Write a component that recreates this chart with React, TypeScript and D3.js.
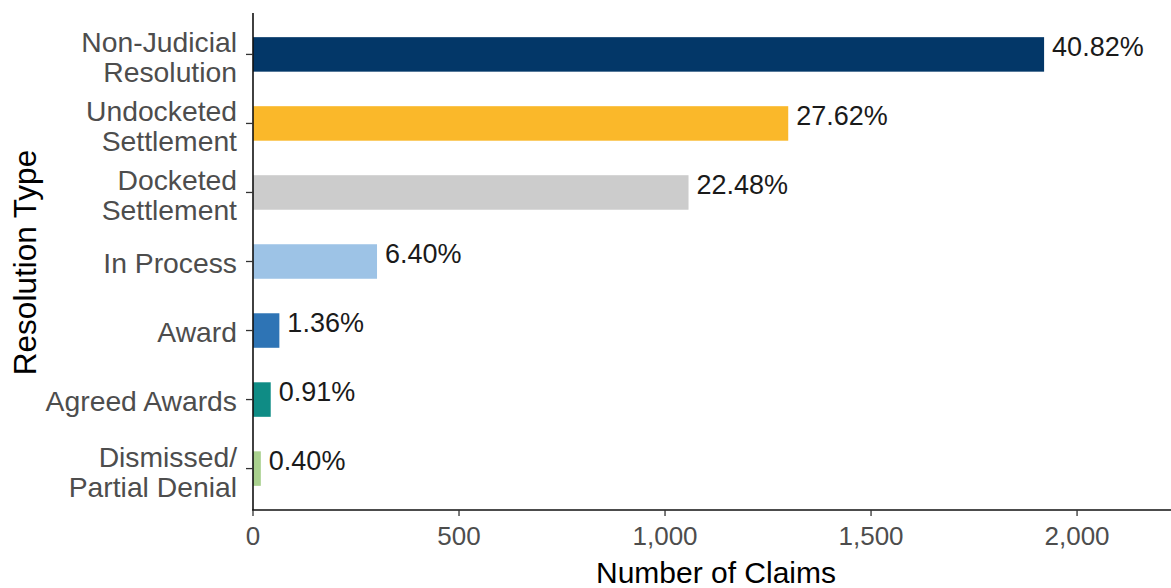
import React from "react";
import * as d3 from "d3";

const categories: string[][] = [
  ["Non-Judicial", "Resolution"],
  ["Undocketed", "Settlement"],
  ["Docketed", "Settlement"],
  ["In Process"],
  ["Award"],
  ["Agreed Awards"],
  ["Dismissed/", "Partial Denial"],
];
const claims: number[] = [1920, 1299, 1057, 301, 64, 43, 19];
const pctLabels: string[] = ["40.82%", "27.62%", "22.48%", "6.40%", "1.36%", "0.91%", "0.40%"];
const barColors: string[] = ["#033768", "#FAB82A", "#CCCCCC", "#9DC3E6", "#2E74B5", "#0F8C85", "#A9D18E"];
const xTicks: number[] = [0, 500, 1000, 1500, 2000];

const W = 1171;
const H = 588;
const FONT = "'Liberation Sans', Arial, sans-serif";

export default function App() {
  const left = 253;
  const right = 1171;
  const top = 13;
  const bottom = 510;

  const x = d3.scaleLinear().domain([0, 2228]).range([left, right]);
  const keys = categories.map((_, i) => String(i));
  const y = d3
    .scaleBand<string>()
    .domain(keys)
    .range([top, bottom])
    .paddingInner(0.5)
    .paddingOuter(0.35);
  const fmt = d3.format(",");
  const catSize = 28.3;

  return (
    <svg
      width={W}
      height={H}
      style={{ position: "absolute", left: 0, top: 0, background: "#fff" }}
      fontFamily={FONT}
    >
      <rect x={0} y={0} width={W} height={H} fill="#fff" />
      {/* bars */}
      {claims.map((v, i) => (
        <rect
          key={"b" + i}
          x={x(0)}
          y={y(keys[i])!}
          width={x(v) - x(0)}
          height={y.bandwidth()}
          fill={barColors[i]}
        />
      ))}
      {/* value labels */}
      {claims.map((v, i) => {
        const cy = y(keys[i])! + y.bandwidth() / 2;
        return (
          <text key={"l" + i} x={x(v) + 8} y={cy + 1.5} fontSize={27} fill="#1a1a1a">
            {pctLabels[i]}
          </text>
        );
      })}
      {/* y axis */}
      <line x1={left} x2={left} y1={top} y2={bottom + 0.75} stroke="#111" strokeWidth={1.6} />
      {categories.map((lines, i) => {
        const cy = y(keys[i])! + y.bandwidth() / 2;
        return (
          <g key={"yt" + i}>
            <line x1={left - 7} x2={left} y1={cy} y2={cy} stroke="#333" strokeWidth={1.3} />
            {lines.length === 1 ? (
              <text x={237} y={cy + 11.5} fontSize={catSize} textAnchor="end" fill="#4d4d4d">
                {lines[0]}
              </text>
            ) : (
              <text x={237} y={cy - 2} fontSize={catSize} textAnchor="end" fill="#4d4d4d">
                <tspan x={237} y={cy - 2}>{lines[0]}</tspan>
                <tspan x={237} y={cy + 28}>{lines[1]}</tspan>
              </text>
            )}
          </g>
        );
      })}
      {/* x axis */}
      <line x1={left - 0.75} x2={right} y1={bottom} y2={bottom} stroke="#111" strokeWidth={1.6} />
      {xTicks.map((t) => (
        <g key={"xt" + t}>
          <line x1={x(t)} x2={x(t)} y1={bottom} y2={bottom + 6} stroke="#333" strokeWidth={1.3} />
          <text x={x(t)} y={545} fontSize={26} textAnchor="middle" fill="#4d4d4d">
            {fmt(t)}
          </text>
        </g>
      ))}
      {/* titles */}
      <text x={(left + right) / 2 + 4} y={583} fontSize={30} textAnchor="middle" fill="#000">
        Number of Claims
      </text>
      <text
        transform={`translate(36, ${(top + bottom) / 2 + 1}) rotate(-90)`}
        fontSize={31.5}
        textAnchor="middle"
        fill="#000"
      >
        Resolution Type
      </text>
    </svg>
  );
}
